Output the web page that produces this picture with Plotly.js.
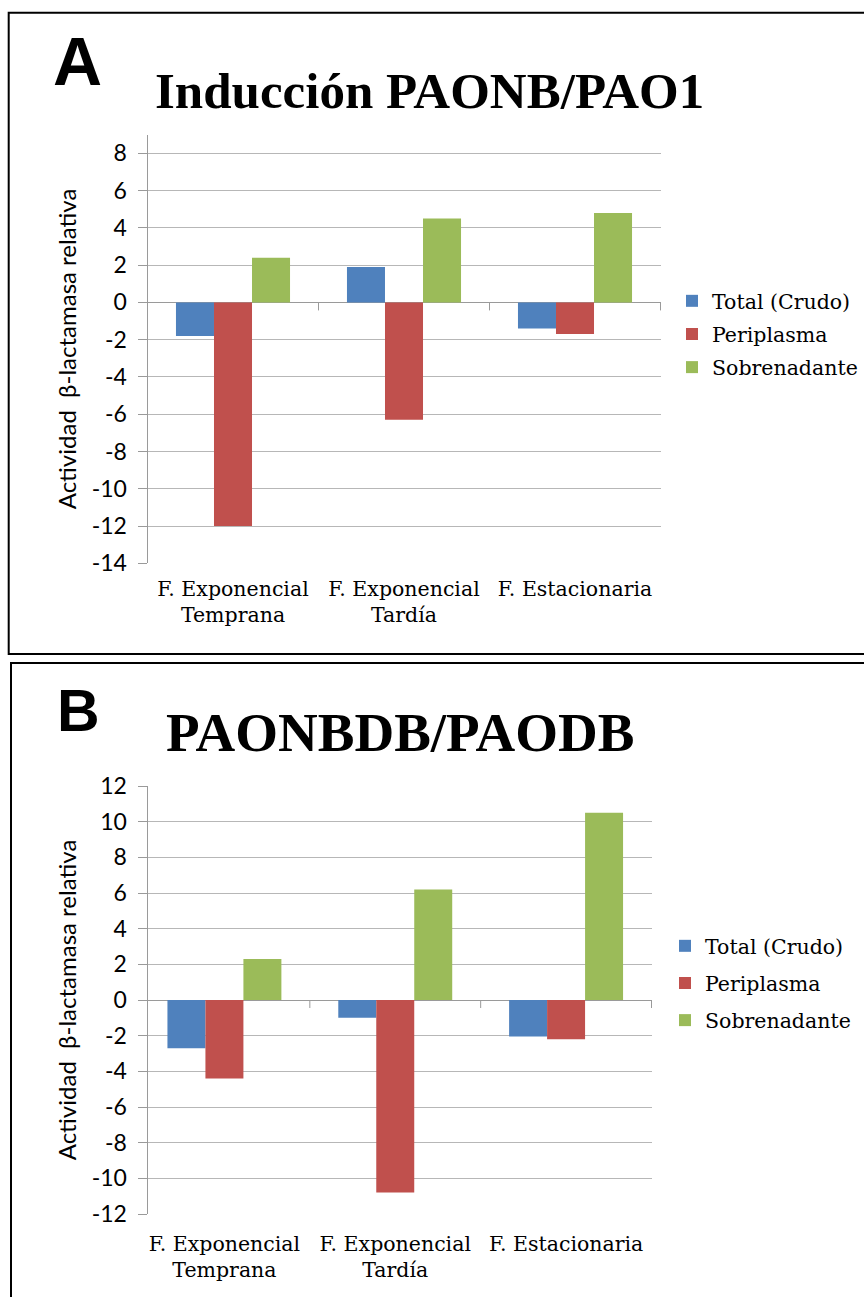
<!DOCTYPE html>
<html><head><meta charset="utf-8">
<script src="https://cdn.plot.ly/plotly-3.0.1.min.js"></script>
<style>html,body{margin:0;padding:0;background:#fff}</style>
</head><body><div id="chart" style="width:864px;height:1297px"></div>
<script>
const categories = ['F. Exponencial<br>Temprana', 'F. Exponencial<br>Tardía', 'F. Estacionaria'];
const seriesNames = ['Total (Crudo)', 'Periplasma', 'Sobrenadante'];
const seriesColors = ['#4F81BD', '#C0504D', '#9BBB59'];
// Panel A: Inducción PAONB/PAO1
const totalA = [-1.8, 1.9, -1.4];
const periplasmaA = [-12.0, -6.3, -1.7];
const sobrenadanteA = [2.4, 4.5, 4.8];
const tickValsA = [-14, -12, -10, -8, -6, -4, -2, 0, 2, 4, 6, 8];
// Panel B: PAONBDB/PAODB
const totalB = [-2.7, -1.0, -2.05];
const periplasmaB = [-4.4, -10.8, -2.2];
const sobrenadanteB = [2.3, 6.2, 10.5];
const tickValsB = [-12, -10, -8, -6, -4, -2, 0, 2, 4, 6, 8, 10, 12];

const titleA = 'Inducción PAONB/PAO1';
const titleB = 'PAONBDB/PAODB';
const yTitle = 'Actividad\u00a0 β-lactamasa relativa';

const W = 864, H = 1297;
const px = v => v / W;
const py = v => 1 - v / H;

const valsA = [totalA, periplasmaA, sobrenadanteA];
const valsB = [totalB, periplasmaB, sobrenadanteB];

const traces = [];
valsA.forEach((v, i) => traces.push({
  type: 'bar', x: categories, y: v, name: seriesNames[i],
  marker: {color: seriesColors[i]}, xaxis: 'x', yaxis: 'y',
  legend: 'legend', legendgroup: 'a' + i
}));
valsB.forEach((v, i) => traces.push({
  type: 'bar', x: categories, y: v, name: seriesNames[i],
  marker: {color: seriesColors[i]}, xaxis: 'x2', yaxis: 'y2',
  legend: 'legend2', legendgroup: 'b' + i
}));

const gridC = '#b7b7b7', axC = '#9a9a9a';
const tickFont = {family: 'Lato, sans-serif', size: 23, color: '#000'};
const catFont = {family: 'DejaVu Serif, serif', size: 20.5, color: '#000'};
const legFont = {family: 'DejaVu Serif, serif', size: 20.5, color: '#000'};

function yAx(domain, range, tickvals) {
  return {
    domain: domain, range: range, tickvals: tickvals, ticktext: tickvals.map(String),
    showgrid: true, gridcolor: gridC, gridwidth: 1,
    zeroline: true, zerolinecolor: axC, zerolinewidth: 1,
    showline: true, linecolor: axC, linewidth: 1,
    ticks: 'outside', ticklen: 9, tickcolor: axC, tickwidth: 1,
    ticklabelstandoff: 6,
    tickfont: tickFont, fixedrange: true,
    title: {text: yTitle, font: {family: 'Lato, sans-serif', size: 24, color: '#000'}, standoff: 8}
  };
}
function xAx(domain, anchor, standoff) {
  return {
    domain: domain, anchor: anchor, type: 'category',
    showgrid: false, zeroline: false, showline: false, ticks: '',
    tickfont: catFont, ticklabelstandoff: standoff, fixedrange: true
  };
}

const shapes = [];
// panel borders
shapes.push({type: 'rect', xref: 'paper', yref: 'paper', x0: px(8.7), x1: 1.02, y0: py(654), y1: py(12.7),
  line: {color: '#000', width: 2}, fillcolor: 'rgba(0,0,0,0)'});
shapes.push({type: 'rect', xref: 'paper', yref: 'paper', x0: px(11), x1: 1.02, y0: -0.02, y1: py(663),
  line: {color: '#000', width: 2}, fillcolor: 'rgba(0,0,0,0)'});
// category boundary tick marks on the horizontal axis (at zero)
[['x', 'y'], ['x2', 'y2']].forEach(([xr, yr]) => {
  for (let i = 1; i <= categories.length; i++) {
    shapes.push({type: 'line', xref: xr, yref: yr, ysizemode: 'pixel', yanchor: 0,
      x0: i - 0.5, x1: i - 0.5, y0: 0, y1: -8, line: {color: axC, width: 1}});
  }
});

const annotations = [
  {xref: 'paper', yref: 'paper', x: px(77), y: py(61), xanchor: 'center', yanchor: 'middle',
   text: '<b>A</b>', showarrow: false, font: {family: 'Liberation Sans, Arial, sans-serif', size: 68, color: '#000'}},
  {xref: 'paper', yref: 'paper', x: px(429), y: py(91), xanchor: 'center', yanchor: 'middle',
   text: '<b>' + titleA + '</b>', showarrow: false, font: {family: 'Liberation Serif, serif', size: 51, color: '#000'}},
  {xref: 'paper', yref: 'paper', x: px(78), y: py(711), xanchor: 'center', yanchor: 'middle',
   text: '<b>B</b>', showarrow: false, font: {family: 'Liberation Sans, Arial, sans-serif', size: 59, color: '#000'}},
  {xref: 'paper', yref: 'paper', x: px(400), y: py(732), xanchor: 'center', yanchor: 'middle',
   text: '<b>' + titleB + '</b>', showarrow: false, font: {family: 'Liberation Serif, serif', size: 55, color: '#000'}}
];

const layout = {
  width: W, height: H, autosize: false,
  margin: {l: 0, r: 0, t: 0, b: 0, pad: 0, autoexpand: false},
  paper_bgcolor: '#fff', plot_bgcolor: '#fff',
  barmode: 'group', bargap: 0.333, bargroupgap: 0,
  showlegend: true,
  xaxis: xAx([px(147.5), px(661)], 'y', 11),
  yaxis: yAx([py(563.3), py(134.7)], [-14, 9], tickValsA),
  xaxis2: xAx([px(139), px(652)], 'y2', 15),
  yaxis2: yAx([py(1214), py(786)], [-12, 12], tickValsB),
  legend: {x: px(672), y: py(281), xanchor: 'left', yanchor: 'top', font: legFont,
    bgcolor: 'rgba(0,0,0,0)', borderwidth: 0, tracegroupgap: 3.5, traceorder: 'grouped'},
  legend2: {x: px(665), y: py(926), xanchor: 'left', yanchor: 'top', font: legFont,
    bgcolor: 'rgba(0,0,0,0)', borderwidth: 0, tracegroupgap: 7.5, traceorder: 'grouped'},
  shapes: shapes,
  annotations: annotations
};

Plotly.newPlot('chart', traces, layout, {staticPlot: true, displayModeBar: false});
</script>
</body></html>
